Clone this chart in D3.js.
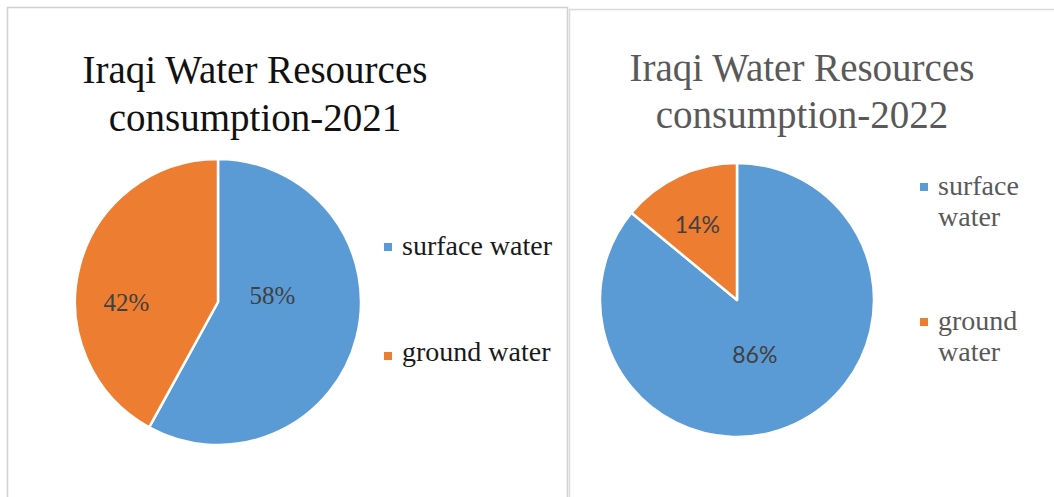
<!DOCTYPE html>
<html><head><meta charset="utf-8">
<script src="https://cdn.jsdelivr.net/npm/d3@7"></script>
<style>body{margin:0;background:#fff}svg{display:block}</style>
</head><body>
<svg id="c" width="1054" height="497"></svg>
<script>
const categories = ["surface water", "ground water"];
const values2021 = [58, 42];
const values2022 = [86, 14];
const titles = [["Iraqi Water Resources", "consumption-2021"], ["Iraqi Water Resources", "consumption-2022"]];
const colors = ["#5B9BD5", "#ED7D31"];

const svg = d3.select("#c");
const color = d3.scaleOrdinal().domain(categories).range(colors);
const pie = d3.pie().sort(null).value(d => d.v);
const serif = "Liberation Serif, Times New Roman, serif";

// panel borders
svg.append("path").attr("d", "M7.5,497 V7.5 H567.5 V497").attr("fill", "none").attr("stroke", "#d0d0d0").attr("stroke-width", 1.5);
svg.append("path").attr("d", "M569.5,497 V9.5 H1054").attr("fill", "none").attr("stroke", "#d9d9d9").attr("stroke-width", 1.5);

const panels = [
  {vals: values2021, title: titles[0], cx: 218, cy: 302, r: 143, tx: 255, ty: [83, 131], tcol: "#111",
   lfont: serif, lsize: 25, lcol: "#404040", loff: [[0.38, -0.05], [-0.64, 0]],
   gcol: "#1a1a1a", legend: [{x: 388, y: 247, ty: 255, lines: ["surface water"]}, {x: 388, y: 356, ty: 361, lines: ["ground water"]}]},
  {vals: values2022, title: titles[1], cx: 737, cy: 300, r: 137, tx: 802, ty: [81, 128], tcol: "#595959",
   lfont: "Lato, Open Sans, sans-serif", lsize: 23, lcol: "#404040", loff: [[0.13, 0.40], [-0.29, -0.55]],
   gcol: "#595959", legend: [{x: 924, y: 187, ty: 195, lines: ["surface", "water"]}, {x: 924, y: 322, ty: 330, lines: ["ground", "water"]}]}
];

panels.forEach(p => {
  const g = svg.append("g");
  g.selectAll("text.title").data(p.title).join("text")
    .attr("x", p.tx).attr("y", (d, i) => p.ty[i])
    .attr("text-anchor", "middle").attr("font-family", serif)
    .attr("font-size", 39).attr("fill", p.tcol).text(d => d);

  const data = categories.map((c, i) => ({c, v: p.vals[i]}));
  const arcs = pie(data);
  const arc = d3.arc().innerRadius(0).outerRadius(p.r);
  const pg = g.append("g").attr("transform", `translate(${p.cx},${p.cy})`);
  pg.selectAll("path").data(arcs).join("path")
    .attr("d", arc).attr("fill", d => color(d.data.c))
    .attr("stroke", "#fff").attr("stroke-width", 2.5).attr("stroke-linejoin", "round");
  pg.selectAll("text").data(arcs).join("text")
    .attr("x", (d, i) => p.loff[i][0] * p.r).attr("y", (d, i) => p.loff[i][1] * p.r)
    .attr("text-anchor", "middle").attr("dy", "0.35em")
    .attr("font-family", p.lfont).attr("font-size", p.lsize)
    .attr("fill", p.lcol).text(d => d.data.v + "%");

  p.legend.forEach((L, i) => {
    g.append("rect").attr("x", L.x - 4).attr("y", L.y - 4).attr("width", 8).attr("height", 8)
      .attr("fill", color(categories[i]));
    const t = g.append("text").attr("x", L.x + 14).attr("y", L.ty)
      .attr("font-family", serif).attr("font-size", 28).attr("fill", p.gcol);
    L.lines.forEach((ln, j) => t.append("tspan").attr("x", L.x + 14).attr("dy", j ? 31 : 0).text(ln));
  });
});
</script>
</body></html>
